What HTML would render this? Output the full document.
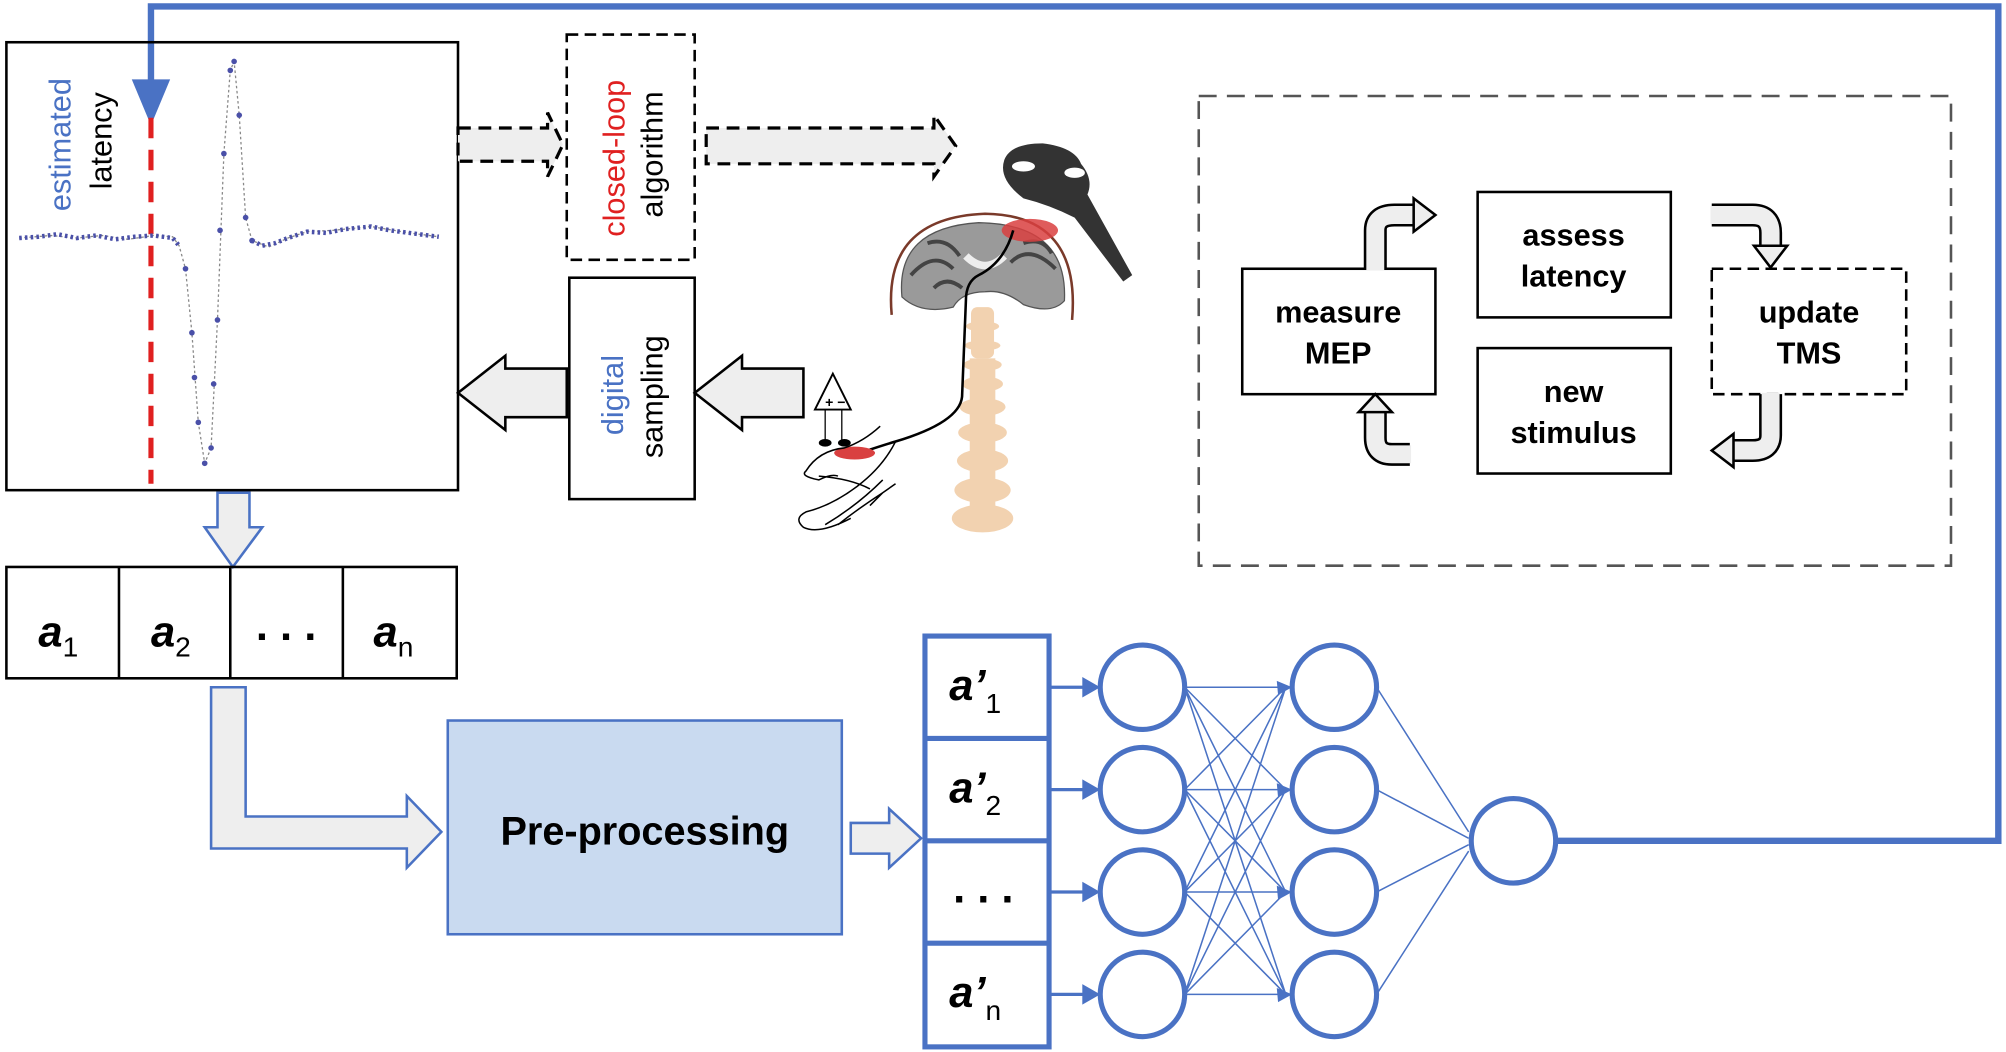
<!DOCTYPE html>
<html><head><meta charset="utf-8"><style>html,body{margin:0;padding:0;background:#fff}svg{display:block}</style></head>
<body>
<svg width="2006" height="1052" viewBox="0 0 1568 822" preserveAspectRatio="none" xmlns="http://www.w3.org/2000/svg" font-family="Liberation Sans, Arial, sans-serif">
<polyline points="118,70 118,5 1562,5 1562,657 1216,657" fill="none" stroke="#4a72c4" stroke-width="5"/>
<polygon points="103,62 133,62 118,98" fill="#4a72c4"/>
<rect x="5" y="33" width="353" height="350" fill="none" stroke="#000" stroke-width="2"/>
<line x1="118" y1="92" x2="118" y2="378" stroke="#e02020" stroke-width="4" stroke-dasharray="16,9"/>
<polyline points="15,186 40,184 60,186 80,184 100,187 120,184 135,185 140,192 145,210 150,260 155,330 160,362 165,350 170,250 175,120 180,55 183,48 187,90 192,170 197,188 210,193 225,186 240,181 260,180 290,177 320,182 343,185" fill="none" stroke="#888" stroke-width="1" stroke-dasharray="2,2"/>
<path d="M15,186 L30,185 L45,183 L60,186 L75,184 L90,187 L105,185 L120,184 L135,186 L140,192 M197,188 L205,192 L215,190 L225,186 L240,181 L255,182 L270,179 L290,177 L305,180 L320,182 L335,184 L343,185" fill="none" stroke="#4a50a8" stroke-width="3.5" stroke-dasharray="2,2.5"/>
<g fill="#4a50a8">
<circle cx="145" cy="210" r="2.2"/><circle cx="150" cy="260" r="2.2"/><circle cx="155" cy="330" r="2.2"/><circle cx="160" cy="362" r="2.2"/><circle cx="165" cy="350" r="2.2"/><circle cx="170" cy="250" r="2.2"/><circle cx="175" cy="120" r="2.2"/><circle cx="180" cy="55" r="2.2"/><circle cx="183" cy="48" r="2.2"/><circle cx="187" cy="90" r="2.2"/><circle cx="192" cy="170" r="2.2"/><circle cx="197" cy="188" r="2.2"/><circle cx="152" cy="295" r="2.2"/><circle cx="167" cy="300" r="2.2"/><circle cx="172" cy="180" r="2.2"/>
</g>
<text transform="translate(55,165) rotate(-90)" font-size="24" fill="#4a72c4">estimated</text>
<text transform="translate(87,148) rotate(-90)" font-size="24" fill="#000">latency</text>
<polygon points="358,100 428,100 428,88 440,113 428,138 428,126 358,126" fill="#eee" stroke="#000" stroke-width="2.5" stroke-dasharray="10,6"/>
<polygon points="552,100 730,100 730,90 747,114 730,138 730,128 552,128" fill="#eee" stroke="#000" stroke-width="2.5" stroke-dasharray="10,6"/>
<rect x="443" y="27" width="100" height="176" fill="none" stroke="#000" stroke-width="2" stroke-dasharray="9,5"/>
<text transform="translate(488,185) rotate(-90)" font-size="24" fill="#e02020">closed-loop</text>
<text transform="translate(518,170) rotate(-90)" font-size="24" fill="#000">algorithm</text>
<rect x="445" y="217" width="98" height="173" fill="none" stroke="#000" stroke-width="2"/>
<text transform="translate(487,340) rotate(-90)" font-size="24" fill="#4a72c4">digital</text>
<text transform="translate(518,358) rotate(-90)" font-size="24" fill="#000">sampling</text>
<polygon points="628,288 580,288 580,278 543,307 580,336 580,326 628,326" fill="#eee" stroke="#000" stroke-width="2"/>
<polygon points="443,288 395,288 395,278 358,307 395,336 395,326 443,326" fill="#eee" stroke="#000" stroke-width="2"/>
<path d="M697,246 Q690,170 770,167 Q845,168 838,250" fill="none" stroke="#7a3a2a" stroke-width="2"/>
<path d="M705,232 Q700,178 765,174 Q835,175 832,235 Q822,246 800,238 Q785,226 770,228 Q752,228 745,240 Q720,246 705,232 Z" fill="#9a9a9a" stroke="#555" stroke-width="1"/>
<path d="M712,215 Q730,195 745,210 M725,190 Q740,185 750,200 M790,205 Q805,190 825,210 M800,190 Q815,185 822,198 M730,225 Q740,215 752,225" fill="none" stroke="#444" stroke-width="3"/>
<path d="M755,200 Q770,215 785,200" fill="none" stroke="#eee" stroke-width="6"/>
<ellipse cx="805" cy="180" rx="22" ry="9" fill="#d94040" opacity="0.85"/>
<g fill="#f2d2b0">
<rect x="759" y="240" width="18" height="40" rx="5"/>
<ellipse cx="768" cy="255" rx="13" ry="4"/><ellipse cx="768" cy="270" rx="14" ry="4"/><ellipse cx="768" cy="285" rx="15" ry="5"/><ellipse cx="768" cy="300" rx="16" ry="6"/><ellipse cx="768" cy="318" rx="18" ry="7"/><ellipse cx="768" cy="338" rx="19" ry="8"/><ellipse cx="768" cy="360" rx="20" ry="9"/><ellipse cx="768" cy="383" rx="22" ry="10"/><ellipse cx="768" cy="405" rx="24" ry="11"/>
<rect x="758" y="280" width="20" height="130"/>
</g>
<path d="M792,180 Q785,205 765,215 Q755,220 755,235 L752,310 Q750,330 700,345 Q690,348 678,352" fill="none" stroke="#000" stroke-width="2"/>
<path d="M785,125 Q790,112 815,112 Q840,115 845,128 Q855,140 850,152 L885,215 L878,220 L840,170 Q820,160 800,155 Q780,140 785,125 Z" fill="#333"/>
<ellipse cx="800" cy="130" rx="9" ry="4" fill="#fff"/><ellipse cx="840" cy="135" rx="8" ry="4" fill="#fff"/>
<polygon points="651,292 665,320 637,320" fill="#fff" stroke="#000" stroke-width="1.5"/>
<text x="645" y="318" font-size="11" font-weight="bold">+ −</text>
<line x1="645" y1="320" x2="645" y2="345" stroke="#000"/><line x1="658" y1="320" x2="658" y2="345" stroke="#000"/>
<ellipse cx="645" cy="346" rx="5" ry="3" fill="#000"/><ellipse cx="660" cy="346" rx="5" ry="3" fill="#000"/>
<ellipse cx="668" cy="354" rx="16" ry="5" fill="#d94040"/>
<path d="M688,333 Q675,345 660,350 Q640,352 630,368 Q625,372 640,375 Q650,370 655,372 M700,345 Q690,365 670,380 Q650,395 630,400 Q620,405 628,412 Q640,418 665,405 M690,375 Q670,395 645,410 M640,372 Q665,374 680,382 M655,410 Q670,398 690,385 L700,378 M680,395 L690,385" fill="none" stroke="#000" stroke-width="1.2"/>
<rect x="937" y="75" width="588" height="367" fill="none" stroke="#555" stroke-width="2" stroke-dasharray="14,8"/>
<g font-size="24" font-weight="bold" text-anchor="middle">
<rect x="971" y="210" width="151" height="98" fill="none" stroke="#000" stroke-width="2"/>
<text x="1046" y="252">measure</text><text x="1046" y="284">MEP</text>
<rect x="1155" y="150" width="151" height="98" fill="none" stroke="#000" stroke-width="2"/>
<text x="1230" y="192">assess</text><text x="1230" y="224">latency</text>
<rect x="1155" y="272" width="151" height="98" fill="none" stroke="#000" stroke-width="2"/>
<text x="1230" y="314">new</text><text x="1230" y="346">stimulus</text>
<rect x="1338" y="210" width="152" height="98" fill="none" stroke="#000" stroke-width="2" stroke-dasharray="9,5"/>
<text x="1414" y="252">update</text><text x="1414" y="284">TMS</text>
</g>
<g fill="none" stroke-linecap="butt">
<path d="M1075,210 L1075,180 Q1075,168 1090,168 L1105,168" stroke="#000" stroke-width="18"/>
<path d="M1075,211 L1075,180 Q1075,168 1090,168 L1106,168" stroke="#eee" stroke-width="14"/>
<path d="M1102,355 L1088,355 Q1075,355 1075,342 L1075,322" stroke="#000" stroke-width="18"/>
<path d="M1103,355 L1088,355 Q1075,355 1075,342 L1075,321" stroke="#eee" stroke-width="14"/>
<path d="M1338,168 L1370,168 Q1384,168 1384,182 L1384,192" stroke="#000" stroke-width="18"/>
<path d="M1337,168 L1370,168 Q1384,168 1384,182 L1384,193" stroke="#eee" stroke-width="14"/>
<path d="M1384,308 L1384,340 Q1384,352 1370,352 L1355,352" stroke="#000" stroke-width="18"/>
<path d="M1384,307 L1384,340 Q1384,352 1370,352 L1354,352" stroke="#eee" stroke-width="14"/>
</g>
<g fill="#eee" stroke="#000" stroke-width="2">
<polygon points="1105,155 1122,168 1105,181"/>
<polygon points="1062,322 1075,308 1088,322"/>
<polygon points="1371,192 1384,209 1397,192"/>
<polygon points="1355,339 1338,352 1355,365"/>
</g>
<polygon points="170,385 195,385 195,412 205,412 182,443 160,412 170,412" fill="#eee" stroke="#4a72c4" stroke-width="2"/>
<rect x="5" y="443" width="352" height="87" fill="none" stroke="#000" stroke-width="2"/>
<line x1="93" y1="443" x2="93" y2="530" stroke="#000" stroke-width="2"/><line x1="180" y1="443" x2="180" y2="530" stroke="#000" stroke-width="2"/><line x1="268" y1="443" x2="268" y2="530" stroke="#000" stroke-width="2"/>
<g font-size="34" font-weight="bold" font-style="italic">
<text x="30" y="505">a<tspan font-size="22" font-style="normal" font-weight="normal" dy="8">1</tspan></text>
<text x="118" y="505">a<tspan font-size="22" font-style="normal" font-weight="normal" dy="8">2</tspan></text>
<text x="200" y="500" font-style="normal">. . .</text>
<text x="292" y="505">a<tspan font-size="22" font-style="normal" font-weight="normal" dy="8">n</tspan></text>
</g>
<polygon points="165,537 192,537 192,638 318,638 318,622 345,650 318,678 318,663 165,663" fill="#eee" stroke="#4a72c4" stroke-width="2"/>
<rect x="350" y="563" width="308" height="167" fill="#c9daf0" stroke="#4a72c4" stroke-width="2"/>
<text x="504" y="660" font-size="31" font-weight="bold" text-anchor="middle">Pre-processing</text>
<polygon points="665,643 695,643 695,632 720,655 695,678 695,667 665,667" fill="#eee" stroke="#4a72c4" stroke-width="2"/>
<rect x="723" y="497" width="97" height="321" fill="none" stroke="#4a72c4" stroke-width="4"/>
<g stroke="#4a72c4" stroke-width="4"><line x1="723" y1="577" x2="820" y2="577"/><line x1="723" y1="657" x2="820" y2="657"/><line x1="723" y1="737" x2="820" y2="737"/></g>
<g font-size="34" font-weight="bold" font-style="italic">
<text x="742" y="547">a’<tspan font-size="22" font-style="normal" font-weight="normal" dy="10">1</tspan></text>
<text x="742" y="627">a’<tspan font-size="22" font-style="normal" font-weight="normal" dy="10">2</tspan></text>
<text x="745" y="705" font-style="normal">. . .</text>
<text x="742" y="787">a’<tspan font-size="22" font-style="normal" font-weight="normal" dy="10">n</tspan></text>
</g>
<g stroke="#4a72c4" stroke-width="1.2" fill="none">
<line x1="820" y1="537" x2="850" y2="537" stroke-width="2.5"/><line x1="820" y1="617" x2="850" y2="617" stroke-width="2.5"/><line x1="820" y1="697" x2="850" y2="697" stroke-width="2.5"/><line x1="820" y1="777" x2="850" y2="777" stroke-width="2.5"/>
<path d="M926,537 L1005,537 M926,537 L1005,617 M926,537 L1005,697 M926,537 L1005,777
M926,617 L1005,537 M926,617 L1005,617 M926,617 L1005,697 M926,617 L1005,777
M926,697 L1005,537 M926,697 L1005,617 M926,697 L1005,697 M926,697 L1005,777
M926,777 L1005,537 M926,777 L1005,617 M926,777 L1005,697 M926,777 L1005,777
M1076,537 L1148,650 M1076,617 L1148,655 M1076,697 L1148,660 M1076,777 L1148,665"/>
</g>
<g fill="#4a72c4">
<polygon points="846,529 860,537 846,545"/><polygon points="846,609 860,617 846,625"/><polygon points="846,689 860,697 846,705"/><polygon points="846,769 860,777 846,785"/>
<polygon points="998,532 1010,537 999,543"/><polygon points="998,612 1010,617 999,623"/><polygon points="998,692 1010,697 999,703"/><polygon points="998,772 1010,777 999,783"/>
</g>
<g fill="#fff" stroke="#4a72c4" stroke-width="4">
<circle cx="893" cy="537" r="33"/><circle cx="893" cy="617" r="33"/><circle cx="893" cy="697" r="33"/><circle cx="893" cy="777" r="33"/>
<circle cx="1043" cy="537" r="33"/><circle cx="1043" cy="617" r="33"/><circle cx="1043" cy="697" r="33"/><circle cx="1043" cy="777" r="33"/>
<circle cx="1183" cy="657" r="33"/>
</g>
</svg>
</body></html>
